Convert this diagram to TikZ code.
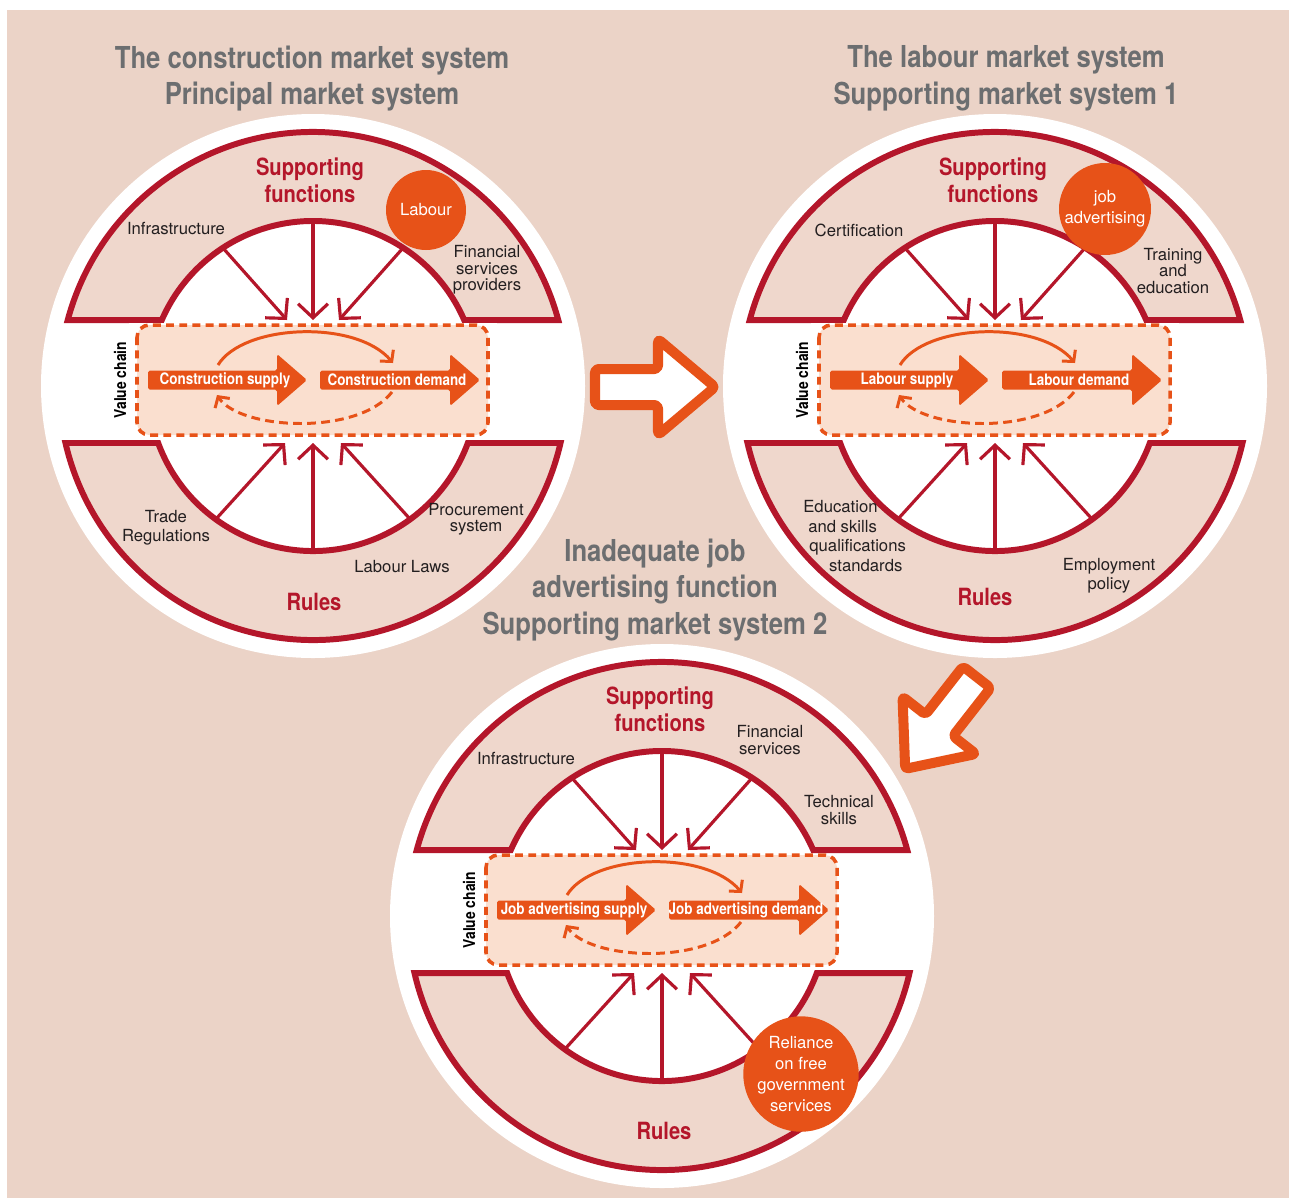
\documentclass[tikz,border=0pt]{standalone}
\usepackage{fontspec}
\setmainfont{TeX Gyre Heros}
\newfontfamily\condfont{TeX Gyre Heros}[FakeStretch=0.85]
\usetikzlibrary{arrows.meta}

\definecolor{bgc}{RGB}{235,211,199}
\definecolor{bandc}{RGB}{239,215,204}
\definecolor{mred}{RGB}{180,22,42}
\definecolor{morange}{RGB}{231,82,24}
\definecolor{boxc}{RGB}{250,223,207}
\definecolor{tgray}{RGB}{108,110,112}
\definecolor{ink}{RGB}{35,31,32}

\tikzset{
  band/.style={fill=bandc, draw=mred, line width=3.4pt, line join=miter},
  redarrow/.style={draw=mred, line width=1.8pt, -{Straight Barb[length=8pt,width=17pt]}},
  vcbox/.style={fill=boxc, draw=morange, line width=2pt, dash pattern=on 4.5pt off 3pt, rounded corners=7pt},
  vcarrow/.style={fill=morange, rounded corners=1pt},
  flow/.style={draw=morange, line width=1.7pt, -{Straight Barb[length=4.5pt,width=10pt]}},
  flowback/.style={flow, dash pattern=on 5pt off 3pt},
  vclabel/.style={text=white, font=\condfont\bfseries\fontsize{9}{10}\selectfont, inner sep=0pt},
  vchain/.style={text=black, font=\condfont\bfseries\fontsize{9.3}{10}\selectfont, rotate=90, inner sep=0pt},
  heading/.style={text=tgray, font=\condfont\bfseries\fontsize{17.2}{21}\selectfont, align=center, inner sep=0pt},
  suptitle/.style={text=mred, font=\condfont\bfseries\fontsize{13.5}{15.3}\selectfont, align=center, inner sep=0pt},
  lbl/.style={text=ink, font=\fontsize{9.5}{9.3}\selectfont, align=center, inner sep=0pt},
  blob/.style={circle, fill=morange, text=white, font=\fontsize{9.5}{12}\selectfont, align=center, inner sep=0pt},
  bigarrow/.style={fill=white, draw=morange, line width=5.7pt, line join=round, rounded corners=2pt},
}

% value-chain arrow from x=#1 to x=#2 at height #3
\newcommand\vcshape[3]{%
  \fill[vcarrow] (#1,#3-9.5) -- (#2-30,#3-9.5) -- (#2-30,#3-26) -- (#2,#3)
    -- (#2-30,#3+26) -- (#2-30,#3+9.5) -- (#1,#3+9.5) -- cycle;}

% one market-system wheel: #1 name, #2 centre, #3 supply text, #4 demand text
\newcommand\wheel[4]{%
\begin{scope}[shift={#2}]
  \fill[white] (0,0) circle[radius=272];
  \draw[band] (195.06:254) arc[start angle=195.06,end angle=344.94,radius=254]
     -- (336.42:165) arc[start angle=336.42,end angle=203.58,radius=165] -- cycle;
  \draw[band] (12.97:254) arc[start angle=12.97,end angle=167.03,radius=254]
     -- (159.79:165) arc[start angle=159.79,end angle=20.21,radius=165] -- cycle;
  \draw[vcbox] (-176,-61) rectangle (175,49);
  \vcshape{-165}{-6}{-6}
  \vcshape{7}{167}{-6}
  \node[vclabel] (#1-supply) at (-88,-6) {#3};
  \node[vclabel] (#1-demand) at (84,-6) {#4};
  \node[vchain] (#1-vc) at (-193,-6) {Value chain};
  \coordinate (#1-f1) at (-95,-21);
  \coordinate (#1-f2) at (80,-23);
  \coordinate (#1-b1) at (79,6);
  \coordinate (#1-b2) at (-96,9);
  \draw[flow] (#1-f1) .. controls (-70,-62) and (43,-67) .. (#1-f2);
  \draw[flowback] (#1-b1) .. controls (45,50) and (-73,44) .. (#1-b2);
  % supporting functions feeding the value chain
  \coordinate (#1-s1) at (-90,-138);  \coordinate (#1-s1t) at (-26,-66);
  \coordinate (#1-s2) at (0,-165);    \coordinate (#1-s2t) at (0,-66);
  \coordinate (#1-s3) at (90,-138);   \coordinate (#1-s3t) at (26,-66);
  \draw[redarrow] (#1-s1) -- (#1-s1t);
  \draw[redarrow] (#1-s2) -- (#1-s2t);
  \draw[redarrow] (#1-s3) -- (#1-s3t);
  % rules acting on the value chain
  \coordinate (#1-r1) at (-97,133);   \coordinate (#1-r1t) at (-28,57);
  \coordinate (#1-r2) at (0,165);     \coordinate (#1-r2t) at (0,57);
  \coordinate (#1-r3) at (97,133);    \coordinate (#1-r3t) at (28,57);
  \draw[redarrow] (#1-r1) -- (#1-r1t);
  \draw[redarrow] (#1-r2) -- (#1-r2t);
  \draw[redarrow] (#1-r3) -- (#1-r3t);
\end{scope}}

\newcommand\bigarrowpath{(-60,-18) -- (3,-18) -- (3,-48) -- (60,0) -- (3,48) -- (3,18) -- (-60,18) -- cycle}

\begin{document}
\begin{tikzpicture}[x=0.02cm,y=-0.02cm]
  \useasboundingbox (0,0) rectangle (1289,1198);
  \fill[white] (0,0) rectangle (1289,1198);
  \fill[bgc] (7,10) rectangle (1289,1198);

  \wheel{cm}{(313,386)}{Construction supply}{Construction demand}
  \wheel{lm}{(995,386)}{Labour supply}{Labour demand}
  \wheel{jm}{(662,916)}{Job advertising supply}{Job advertising demand}

  % construction market system
  \node[heading] (t1) at (312,78.5) {The construction market system\\Principal market system};
  \node[suptitle] (cm-sf) at (310,180) {Supporting\\functions};
  \node[blob, minimum size=1.6cm] (cm-labour) at (426,210) {Labour};
  \node[lbl] (cm-infra) at (176,229) {Infrastructure};
  \node[lbl] (cm-fin) at (487,270) {Financial\\services\\providers};
  \node[lbl, font=\fontsize{9.5}{10.8}\selectfont] (cm-trade) at (166,528) {Trade\\Regulations};
  \node[lbl] (cm-proc) at (476,519) {Procurement\\system};
  \node[lbl] (cm-laws) at (402,567) {Labour Laws};
  \node[suptitle] (cm-rules) at (314,602) {Rules};

  % labour market system
  \node[heading] (t2) at (1006,78) {The labour market system\\Supporting market system 1};
  \node[suptitle] (lm-sf) at (993,180) {Supporting\\functions};
  \node[blob, minimum size=1.84cm] (lm-job) at (1105,209) {job\\advertising};
  \node[lbl] (lm-cert) at (859,230) {Certification};
  \node[lbl] (lm-train) at (1173,271) {Training\\and\\education};
  \node[lbl, align=left, anchor=west, font=\fontsize{9.5}{11.3}\selectfont] (lm-edu) at (803,536)
    {Education\\\hspace*{2.8pt}and skills\\\hspace*{3.4pt}qualifications\\\hspace*{14.7pt}standards};
  \node[lbl, font=\fontsize{9.5}{10.8}\selectfont] (lm-emp) at (1109,576) {Employment\\policy};
  \node[suptitle] (lm-rules) at (985,597) {Rules};

  % job advertising market system
  \node[heading] (t3) at (655,590) {Inadequate job\\advertising function\\Supporting market system 2};
  \node[suptitle] (jm-sf) at (660,709) {Supporting\\functions};
  \node[lbl] (jm-infra) at (526,759) {Infrastructure};
  \node[lbl] (jm-fin) at (770,740) {Financial\\services};
  \node[lbl] (jm-tech) at (839,810) {Technical\\skills};
  \node[suptitle] (jm-rules) at (664,1131) {Rules};
  \node[blob, minimum size=2.2cm] (jm-rel) at (801,1074) {Reliance\\on free\\government\\services};

  % links between the market systems
  \draw[bigarrow, shift={(655,387)}] \bigarrowpath;
  \draw[bigarrow, shift={(941,723)}, rotate=-128, scale=0.97] \bigarrowpath;
\end{tikzpicture}
\end{document}
